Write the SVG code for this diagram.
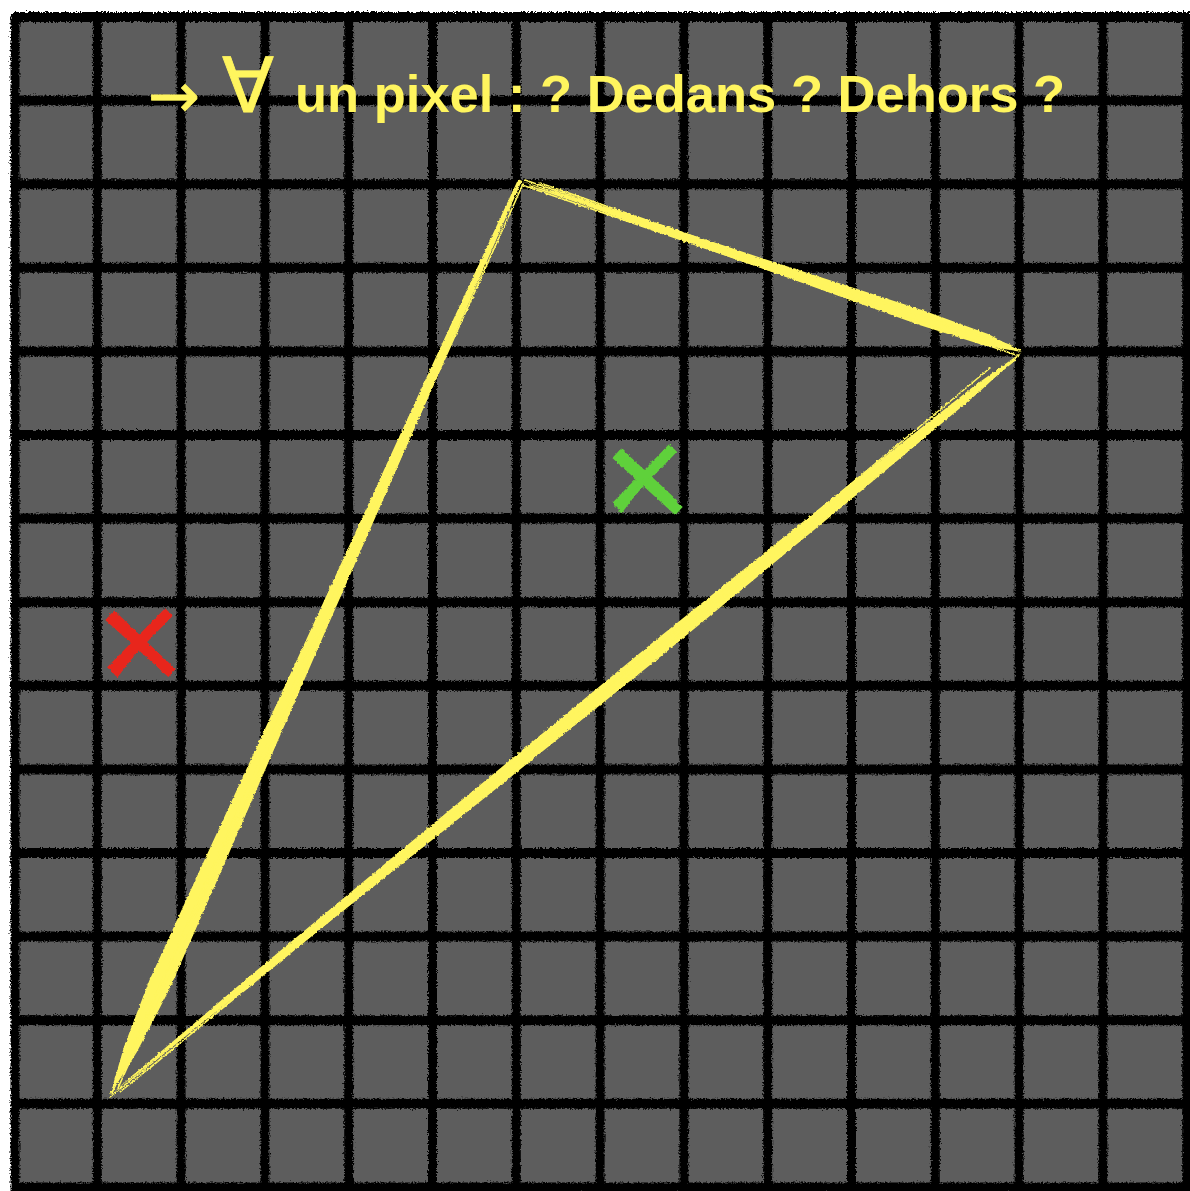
<svg xmlns="http://www.w3.org/2000/svg" width="1190" height="1191" viewBox="0 0 1190 1191">
<defs>
<filter id="rough" x="-5%" y="-5%" width="110%" height="110%">
<feTurbulence type="fractalNoise" baseFrequency="0.6" numOctaves="2" seed="3" result="n"/>
<feDisplacementMap in="SourceGraphic" in2="n" scale="5" xChannelSelector="R" yChannelSelector="G"/>
</filter>
<filter id="chalk" x="-10%" y="-10%" width="120%" height="120%">
<feTurbulence type="fractalNoise" baseFrequency="0.35" numOctaves="2" seed="7" result="n"/>
<feDisplacementMap in="SourceGraphic" in2="n" scale="3" xChannelSelector="R" yChannelSelector="G"/>
</filter>
<style>
.h{stroke:#000;stroke-width:10;}
.v{stroke:#000;stroke-width:9;}
.tri{fill:#fff55e;}
.scr{stroke:#fff55e;stroke-width:1.6;fill:none;stroke-linecap:round;}
.redx{stroke:#e8281c;stroke-linecap:butt;fill:none;}
.grnx{stroke:#5fd13a;stroke-linecap:butt;fill:none;}
.title{font-family:"Liberation Sans",Arial,sans-serif;font-weight:bold;font-size:52.5px;fill:#fff55e;}
.sym{font-family:"DejaVu Sans",sans-serif;font-weight:normal;fill:#fff55e;stroke:#fff55e;stroke-width:0.8;}
</style>
</defs>
<rect width="1190" height="1191" fill="#ffffff"/>
<rect x="14" y="14" width="1176" height="1177" fill="#5d5d5d"/>
<g id="grid" filter="url(#rough)">
<line class="h" x1="14" y1="17" x2="1190" y2="17"/>
<line class="h" x1="14" y1="100.6" x2="1190" y2="100.6"/>
<line class="h" x1="14" y1="184.2" x2="1190" y2="184.2"/>
<line class="h" x1="14" y1="267.8" x2="1190" y2="267.8"/>
<line class="h" x1="14" y1="351.4" x2="1190" y2="351.4"/>
<line class="h" x1="14" y1="435" x2="1190" y2="435"/>
<line class="h" x1="14" y1="518.6" x2="1190" y2="518.6"/>
<line class="h" x1="14" y1="602.2" x2="1190" y2="602.2"/>
<line class="h" x1="14" y1="685.8" x2="1190" y2="685.8"/>
<line class="h" x1="14" y1="769.4" x2="1190" y2="769.4"/>
<line class="h" x1="14" y1="853" x2="1190" y2="853"/>
<line class="h" x1="14" y1="936.6" x2="1190" y2="936.6"/>
<line class="h" x1="14" y1="1020.2" x2="1190" y2="1020.2"/>
<line class="h" x1="14" y1="1103.8" x2="1190" y2="1103.8"/>
<line class="h" x1="14" y1="1187.4" x2="1190" y2="1187.4"/>
<line class="v" x1="15" y1="14" x2="15" y2="1191"/>
<line class="v" x1="97.3" y1="14" x2="97.3" y2="1191"/>
<line class="v" x1="181.1" y1="14" x2="181.1" y2="1191"/>
<line class="v" x1="264.9" y1="14" x2="264.9" y2="1191"/>
<line class="v" x1="348.7" y1="14" x2="348.7" y2="1191"/>
<line class="v" x1="432.5" y1="14" x2="432.5" y2="1191"/>
<line class="v" x1="516.3" y1="14" x2="516.3" y2="1191"/>
<line class="v" x1="600.1" y1="14" x2="600.1" y2="1191"/>
<line class="v" x1="683.9" y1="14" x2="683.9" y2="1191"/>
<line class="v" x1="767.7" y1="14" x2="767.7" y2="1191"/>
<line class="v" x1="851.5" y1="14" x2="851.5" y2="1191"/>
<line class="v" x1="935.3" y1="14" x2="935.3" y2="1191"/>
<line class="v" x1="1019.1" y1="14" x2="1019.1" y2="1191"/>
<line class="v" x1="1102.9" y1="14" x2="1102.9" y2="1191"/>
<line class="v" x1="1186.7" y1="14" x2="1186.7" y2="1191"/>
</g>
<g id="title">
<text class="sym" x="148" y="117" font-size="62">→</text>
<text class="sym" x="222" y="112" font-size="76">∀</text>
<text class="title" x="295" y="112">un pixel : ? Dedans ? Dehors ?</text>
</g>
<g id="triangle" filter="url(#chalk)">
<polygon class="tri" points="521.8,180.8 422.1,410.8 321.4,640.4 221.6,870.3 169.2,989.7 136.9,1052.1 110,1095 124.1,1046.4 149.2,980.7 203.4,862.2 308.6,634.6 412.9,406.7 518.2,179.2"/>
<polygon class="tri" points="112,1093 250.7,984.6 434.3,838.3 663.1,654.6 844.1,505.2 979,392.2 1022,352 974,385.9 835.9,495.2 653,642.2 426.7,829 246.3,979.1"/>
<polygon class="tri" points="521,181 620.1,218.5 769.9,271.2 919.4,324.9 985,345.7 1022,352 988.8,334.3 924.2,310.7 773.1,261.8 622.3,211.9"/>
<path class="scr" d="M517,186 L112,1093 M523,184 L118,1088 M514,192 L125,1070 M510,200 L140,1030"/>
<path class="scr" d="M110,1097 L1019,355 M120,1092 L1015,360 M128,1080 L1005,366 M150,1068 L990,368"/>
<path class="scr" d="M525,180 L1020,350 M522,185 L1016,355 M530,186 L1012,346 M540,183 L1000,343"/>
</g>
<g id="cross-green" filter="url(#chalk)">
<line class="grnx" x1="616" y1="454" x2="679" y2="511" stroke-width="11"/>
<line class="grnx" x1="620" y1="450" x2="676" y2="502" stroke-width="4"/>
<line class="grnx" x1="673" y1="448" x2="616" y2="507" stroke-width="11"/>
<line class="grnx" x1="668" y1="450" x2="620" y2="512" stroke-width="4"/>
</g>
<g id="cross-red" filter="url(#chalk)">
<line class="redx" x1="109" y1="616" x2="172" y2="673" stroke-width="11"/>
<line class="redx" x1="113" y1="612" x2="168" y2="665" stroke-width="4"/>
<line class="redx" x1="169" y1="612" x2="111" y2="671" stroke-width="11"/>
<line class="redx" x1="164" y1="614" x2="116" y2="676" stroke-width="4"/>
</g>
</svg>
